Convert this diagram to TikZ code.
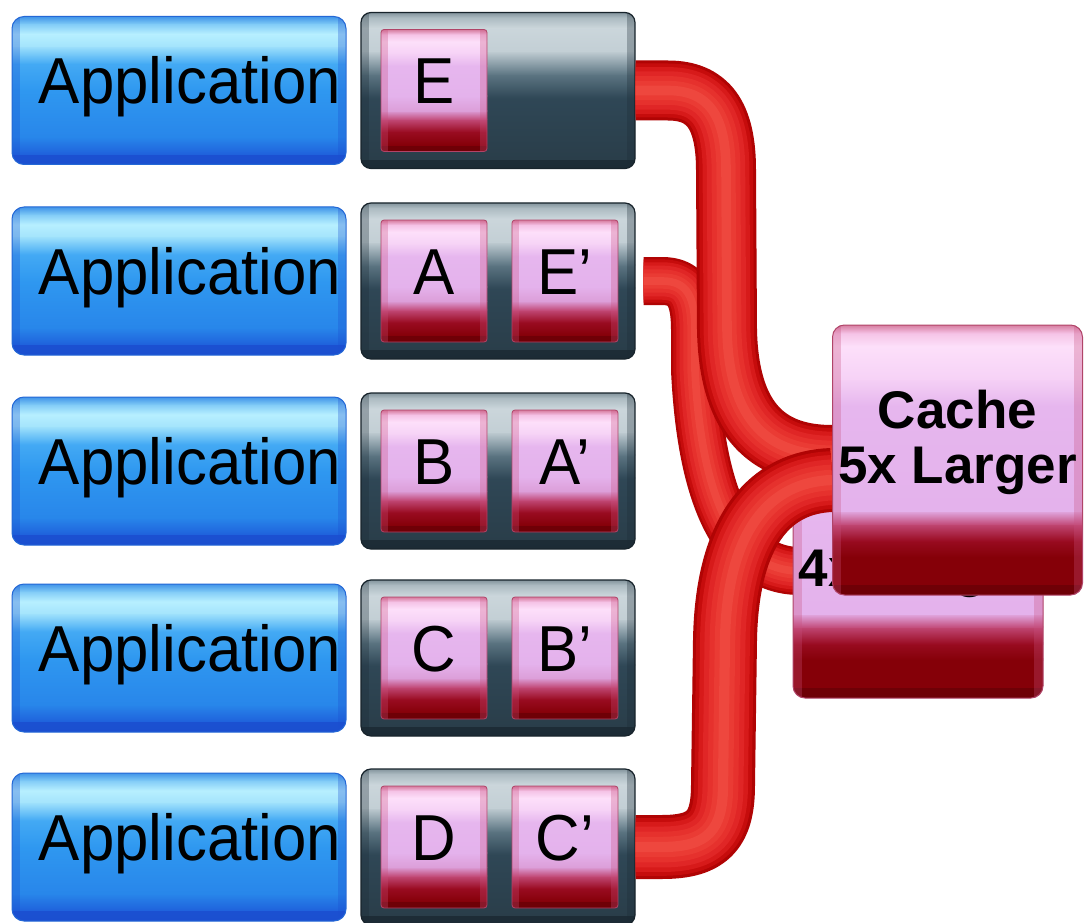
\documentclass[tikz,border=0pt]{standalone}
\usepackage{fontspec}
\setmainfont{Liberation Sans}
\newfontfamily\appfont[FakeStretch=0.95]{Liberation Sans}
\usetikzlibrary{calc}
\pgfdeclarelayer{front}
\pgfsetlayers{main,front}

% blue application boxes
\definecolor{bE}{HTML}{1B4FD0}
\definecolor{bB}{HTML}{1F62DC}
\definecolor{bC}{HTML}{2886EA}
\definecolor{bM}{HTML}{2F98F0}
\definecolor{bU}{HTML}{44AAF4}
\definecolor{bP}{HTML}{A4E4FC}
\definecolor{bH}{HTML}{B8F0FF}
\definecolor{bS}{HTML}{7CC8F6}
\definecolor{bT}{HTML}{3A8EE6}
\definecolor{bL}{HTML}{2468D6}
% slate slot bars
\definecolor{gB}{HTML}{1C2B35}
\definecolor{gD}{HTML}{2A3E4A}
\definecolor{gM}{HTML}{2F4756}
\definecolor{gT}{HTML}{5D7683}
\definecolor{gP}{HTML}{C3CFD5}
\definecolor{gH}{HTML}{CBD6DB}
\definecolor{gS}{HTML}{A8B7BE}
\definecolor{gE}{HTML}{7D8E97}
\definecolor{gL}{HTML}{18242C}
% pink blocks
\definecolor{pA}{HTML}{6E0006}
\definecolor{pB}{HTML}{850008}
\definecolor{pC}{HTML}{9A0C22}
\definecolor{pR}{HTML}{C24A78}
\definecolor{pS}{HTML}{DC9ED8}
\definecolor{pM}{HTML}{E4B2EC}
\definecolor{pN}{HTML}{E6B6EE}
\definecolor{pP}{HTML}{F6D2F6}
\definecolor{pH}{HTML}{FDE0FA}
\definecolor{pT}{HTML}{F4C0E4}
\definecolor{pE}{HTML}{D07092}
\definecolor{pL}{HTML}{B04468}
\definecolor{pW}{HTML}{C8507E}
% red tubes, rim to core
\definecolor{tA}{HTML}{B00404}
\definecolor{tB}{HTML}{C60C0C}
\definecolor{tC}{HTML}{D71A1A}
\definecolor{tD}{HTML}{E02626}
\definecolor{tE}{HTML}{E6312D}
\definecolor{tF}{HTML}{EA3B34}
\definecolor{tG}{HTML}{EE473E}

% stacked vertical colour bands inside a node (fractions from the bottom)
\newcommand\vbands[1]{%
  \foreach \vbA/\vcA/\vbB/\vcB in {#1}{%
    \shade[sharp corners, bottom color=\vcA, top color=\vcB]
      ($(path picture bounding box.south west)!\vbA!(path picture bounding box.north west)$)
      rectangle
      ($(path picture bounding box.south east)!{\vbB+0.006}!(path picture bounding box.north east)$);
  }}
% darker side rims
\newcommand\hsides[2]{%
  \fill[sharp corners, #1, opacity=.3] (path picture bounding box.south west) rectangle
    ($(path picture bounding box.north west)!#2!(path picture bounding box.north east)$);
  \fill[sharp corners, #1, opacity=.3] (path picture bounding box.south east) rectangle
    ($(path picture bounding box.north east)!#2!(path picture bounding box.north west)$);
}

\tikzset{
  appbox/.style={draw=bL, line width=1pt, rounded corners=12pt,
    minimum width=334pt, minimum height=148pt, inner sep=0pt,
    font=\appfont\fontsize{65}{70}\selectfont, text height=47pt, text depth=20pt,
    path picture={\vbands{0/bE/0.07/bB, 0.07/bB/0.18/bC, 0.18/bC/0.5/bM, 0.5/bM/0.68/bU,
      0.68/bU/0.8/bP, 0.8/bP/0.88/bH, 0.88/bH/0.95/bS, 0.95/bS/1/bT}\hsides{bE}{0.025}}},
  slotbar/.style={draw=gL, line width=1.2pt, rounded corners=10pt,
    minimum width=274pt, minimum height=156pt, inner sep=0pt,
    path picture={\vbands{0/gB/0.06/gD, 0.06/gD/0.45/gM, 0.45/gM/0.6/gT, 0.6/gT/0.75/gP,
      0.75/gP/0.9/gH, 0.9/gH/0.97/gS, 0.97/gS/1/gE}\hsides{gB}{0.03}}},
  slotblock/.style={draw=pL, line width=0.8pt, rounded corners=3pt,
    minimum width=106pt, minimum height=122pt, inner sep=0pt,
    font=\appfont\fontsize{65}{70}\selectfont, text height=47pt, text depth=20pt,
    path picture={\vbands{0/pA/0.05/pB, 0.05/pB/0.16/pC, 0.16/pC/0.26/pR, 0.26/pR/0.33/pS,
      0.33/pS/0.45/pM, 0.45/pM/0.7/pN, 0.7/pN/0.8/pP, 0.8/pP/0.9/pH, 0.9/pH/0.96/pT,
      0.96/pT/1/pE}\hsides{pW}{0.07}}},
  cachebox/.style={draw=pL, line width=1pt, rounded corners=12pt,
    minimum width=250pt, minimum height=270pt, inner sep=0pt,
    path picture={\vbands{0/pA/0.04/pB, 0.04/pB/0.14/pB, 0.14/pB/0.2/pC, 0.2/pC/0.26/pR,
      0.26/pR/0.31/pM, 0.31/pM/0.7/pN, 0.7/pN/0.8/pP, 0.8/pP/0.92/pH, 0.92/pH/0.97/pT,
      0.97/pT/1/pE}\hsides{pW}{0.035}}},
  cachetext/.style={font=\bfseries\fontsize{53}{55}\selectfont, align=center, inner sep=0pt},
  tube/.style={line width=#1, draw=tA, line cap=butt, line join=round,
    postaction={draw=tB, line width=0.9*#1},
    postaction={draw=tC, line width=0.78*#1},
    postaction={draw=tD, line width=0.64*#1},
    postaction={draw=tE, line width=0.48*#1},
    postaction={draw=tF, line width=0.32*#1},
    postaction={draw=tG, line width=0.16*#1}},
}

\begin{document}
\begin{tikzpicture}[x=1pt, y=-1pt]
  \fill[white] (0,0) rectangle (1085,923);
  \useasboundingbox (0,0) rectangle (1085,923);

  % five applications, each with its slot bar
  \foreach \i/\y in {1/90.5, 2/281, 3/471, 4/658, 5/847}{
    \node[appbox] (app\i) at (179,\y) {\hspace*{22pt}Application};
    \node[slotbar] (bar\i) at (498,\y) {};
  }

  % cached blocks
  \node[slotblock] (blkE)  at (434,90.5) {E};
  \node[slotblock] (blkA)  at (434,281)  {A};
  \node[slotblock] (blkEp) at (565,281)  {E’};
  \node[slotblock] (blkB)  at (434,471)  {B};
  \node[slotblock] (blkAp) at (565,471)  {A’};
  \node[slotblock] (blkC)  at (434,658)  {C};
  \node[slotblock] (blkBp) at (565,658)  {B’};
  \node[slotblock] (blkD)  at (434,847)  {D};
  \node[slotblock] (blkCp) at (565,847)  {C’};

  % front cache sits on the top layer, above every tube
  \begin{pgfonlayer}{front}
    \node[cachebox] (cache5) at (957.5,460) {};
    \node[cachetext] (cache5txt) at ([yshift=18pt]cache5.center) {Cache\\5x Larger};
  \end{pgfonlayer}

  % tube from the second bar, running behind the others
  \draw[tube=48pt] ([xshift=8pt]bar2.east) -- (662,281)
    .. controls (688,281) and (695,298) .. (695,330) -- (695,370)
    .. controls (700,475) and (725,571) .. (800,571);

  % rear cache
  \node[cachebox] (cache4) at (918,563) {};
  \node[cachetext] (cache4txt) at ([yshift=18pt]cache4.center) {Cache\\4x Larger};

  % tube from the top bar
  \draw[tube=60pt] (bar1.east) -- (668,90.5)
    .. controls (708,90.5) and (726,115) .. (726,170) -- (727,330)
    .. controls (729,425) and (772,455) .. ([yshift=5pt]cache5.west);

  % tube from the bottom bar
  \draw[tube=64pt] (bar5.east) -- (662,847)
    .. controls (708,847) and (723,830) .. (723,785) -- (725,640)
    .. controls (727,530) and (770,482) .. ([yshift=-20pt]cache5.west);
\end{tikzpicture}
\end{document}
